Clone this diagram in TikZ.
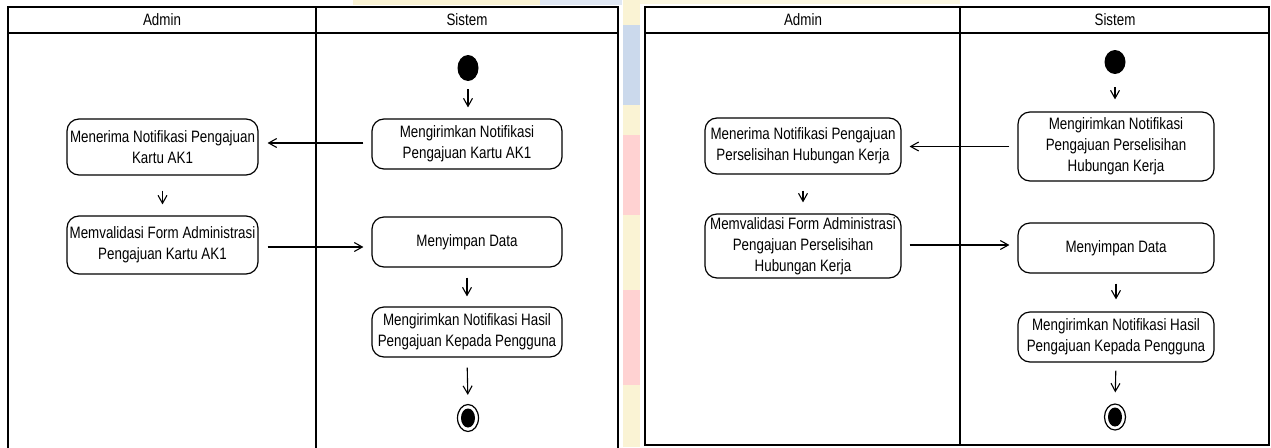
\documentclass[tikz,border=0pt]{standalone}
\usepackage{fontspec}
\setmainfont{Liberation Sans}[FakeStretch=0.81]
\usetikzlibrary{arrows.meta,shapes.geometric}

\definecolor{paleblue}{RGB}{203,217,236}
\definecolor{paleyellow}{RGB}{250,243,212}
\definecolor{palepink}{RGB}{255,210,210}

\begin{document}
\begin{tikzpicture}[x=1pt,y=-1pt,
  lane/.style={draw=black, line width=1.7pt},
  act/.style={draw=black, line width=1.2pt, rounded corners=12pt, align=center,
    inner sep=0pt, font=\fontsize{16.5}{21}\selectfont},
  lanehead/.style={font=\fontsize{16.5}{20}\selectfont},
  flow/.style={line width=1.1pt, -{Straight Barb[length=8pt,width=9pt,line width=1.1pt]}},
  startdot/.style={ellipse, fill=black, minimum width=21pt, minimum height=26pt, inner sep=0pt},
  enddot/.style={ellipse, draw=black, line width=1.2pt, fill=white,
    minimum width=21pt, minimum height=27pt, inner sep=0pt,
    path picture={\fill[black] (path picture bounding box.center) ellipse [x radius=7pt, y radius=9.5pt];}}
]
\useasboundingbox (0,0) rectangle (1271,447);

% faint backdrop showing between and above the two diagrams
\fill[paleyellow] (353,0) rectangle (622,5);
\fill[paleblue!60!white] (540,0) rectangle (622,5);
\fill[paleyellow!70!white] (640,0) rectangle (960,4);
\fill[paleblue] (623,0) rectangle (640,105);
\fill[paleyellow] (623,0) rectangle (640,25);
\fill[paleyellow] (623,105) rectangle (640,135);
\fill[palepink] (623,135) rectangle (640,447);
\fill[paleyellow] (623,215) rectangle (640,290);
\fill[paleyellow] (623,385) rectangle (640,447);

% ---------------- first diagram: Kartu AK1 ----------------
\draw[lane] (8,448) -- (8,7) -- (618,7) -- (618,448);
\draw[lane] (8,33) -- (618,33);
\draw[lane] (316,7) -- (316,448);
\node[lanehead] (LhA) at (162,20) {Admin};
\node[lanehead] (LhS) at (467,20) {Sistem};

\node[startdot] (Lstart) at (468,68) {};
\node[act, minimum width=190pt, minimum height=50pt] (Lsend) at (467,144)
  {Mengirimkan Notifikasi\\Pengajuan Kartu AK1};
\node[act, minimum width=191pt, minimum height=56pt] (Lrecv) at (162.5,147)
  {Menerima Notifikasi Pengajuan\\Kartu AK1};
\node[act, minimum width=191pt, minimum height=58pt] (Lvalid) at (162.5,245)
  {Memvalidasi Form Administrasi\\Pengajuan Kartu AK1};
\node[act, minimum width=190pt, minimum height=50pt] (Lsave) at (467,242)
  {Menyimpan Data};
\node[act, minimum width=190pt, minimum height=50pt] (Lnotify) at (467,332)
  {Mengirimkan Notifikasi Hasil\\Pengajuan Kepada Pengguna};
\node[enddot] (Lend) at (468,418) {};

\draw[flow, shorten <=8pt, shorten >=11pt] (Lstart) -- (Lstart |- Lsend.north);
\draw[flow, shorten <=8pt, shorten >=9pt] ([yshift=1pt]Lsend.west) -- ([yshift=1pt]Lsend.west -| Lrecv.east);
\draw[flow, shorten <=15pt, shorten >=11pt] (Lrecv.south) -- (Lvalid.north);
\draw[flow, shorten <=9pt, shorten >=8pt] ([yshift=-2pt]Lvalid.east) -- ([yshift=-2pt]Lvalid.east -| Lsave.west);
\draw[flow, shorten <=10pt, shorten >=10pt] (Lsave.south) -- (Lnotify.north);
\draw[flow, shorten <=10pt, shorten >=9pt] (Lnotify.south) -- (Lend.north);

% ---------------- second diagram: Perselisihan Hubungan Kerja ----------------
\draw[lane] (645,7) rectangle (1269,445);
\draw[lane] (645,33) -- (1269,33);
\draw[lane] (960,7) -- (960,445);
\node[lanehead] (RhA) at (803,20) {Admin};
\node[lanehead] (RhS) at (1115,20) {Sistem};

\node[startdot, minimum height=24pt] (Rstart) at (1115,62) {};
\node[act, minimum width=196pt, minimum height=69pt] (Rsend) at (1116,146.5)
  {Mengirimkan Notifikasi\\Pengajuan Perselisihan\\Hubungan Kerja};
\node[act, minimum width=196pt, minimum height=56pt] (Rrecv) at (803,146)
  {Menerima Notifikasi Pengajuan\\Perselisihan Hubungan Kerja};
\node[act, minimum width=196pt, minimum height=64pt] (Rvalid) at (803,246)
  {Memvalidasi Form Administrasi\\Pengajuan Perselisihan\\Hubungan Kerja};
\node[act, minimum width=196pt, minimum height=50pt] (Rsave) at (1116,248)
  {Menyimpan Data};
\node[act, minimum width=196pt, minimum height=50pt] (Rnotify) at (1116,337)
  {Mengirimkan Notifikasi Hasil\\Pengajuan Kepada Pengguna};
\node[enddot, minimum height=26pt] (Rend) at (1115,417) {};

\draw[flow, shorten <=13pt, shorten >=12pt] (Rstart) -- (Rstart |- Rsend.north);
\draw[flow, shorten <=8pt, shorten >=8pt] (Rsend.west) -- (Rsend.west -| Rrecv.east);
\draw[flow, shorten <=16pt, shorten >=11pt] (Rrecv.south) -- (Rvalid.north);
\draw[flow, shorten <=8pt, shorten >=8pt] ([yshift=1pt]Rvalid.east) -- ([yshift=1pt]Rvalid.east -| Rsave.west);
\draw[flow, shorten <=10pt, shorten >=12pt] (Rsave.south) -- (Rnotify.north);
\draw[flow, shorten <=8pt, shorten >=11pt] (Rnotify.south) -- (Rend.north);
\end{tikzpicture}
\end{document}
